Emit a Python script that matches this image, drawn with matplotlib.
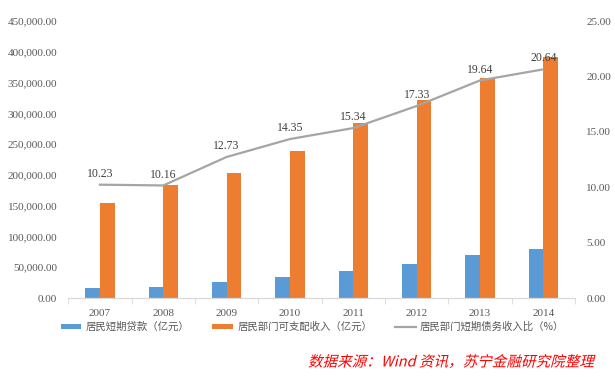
import matplotlib.pyplot as plt
import numpy as np
from matplotlib.ticker import FuncFormatter
from matplotlib.patheffects import AbstractPathEffect
from matplotlib.transforms import Affine2D

plt.rcParams["font.family"] = ["Noto Sans CJK SC", "DejaVu Sans"]

years = ["2007", "2008", "2009", "2010", "2011", "2012", "2013", "2014"]
short_loans = [15700, 17400, 25500, 33600, 43300, 55200, 69300, 79600]
disp_income = [154300, 183500, 203500, 238800, 284800, 321700, 356900, 391000]
ratio = [10.23, 10.16, 12.73, 14.35, 15.34, 17.33, 19.64, 20.64]

blue = "#5B9BD5"
orange = "#ED7D31"
grey = "#A5A5A5"
tick_col = "#595959"
serif = ["Liberation Serif", "DejaVu Serif"]


# CJK fonts have no italic face, so slant the glyph outlines instead
class Slant(AbstractPathEffect):
    def draw_path(self, renderer, gc, tpath, affine, rgbFace=None):
        renderer.draw_path(gc, tpath, Affine2D().skew_deg(14, 0) + affine, rgbFace)


fig = plt.figure(figsize=(6.15, 3.77), dpi=100)
ax = fig.add_axes([0.111, 0.2095, 0.824, 0.7347])
ax2 = ax.twinx()

x = np.arange(len(years))
w = 0.23
ax.bar(x - w / 2, short_loans, w, color=blue, label="居民短期贷款（亿元）", zorder=2)
ax.bar(x + w / 2, disp_income, w, color=orange, label="居民部门可支配收入（亿元）", zorder=2)

ax2.plot(x, ratio, color=grey, lw=1.6, label="居民部门短期债务收入比（%）", zorder=3)
for xi, v in zip(x, ratio):
    ax2.annotate(f"{v:.2f}", (xi, v), xytext=(0, 3.5), textcoords="offset points",
                 ha="center", va="bottom", fontsize=8.5, color="#404040", family=serif)

ax.set_xlim(-0.5, len(years) - 0.5)
ax.set_ylim(0, 450000)
ax.set_yticks(np.arange(0, 450001, 50000))
ax.yaxis.set_major_formatter(FuncFormatter(lambda v, p: f"{v:,.2f}"))
ax2.set_ylim(0, 25)
ax2.set_yticks(np.arange(0, 26, 5))
ax2.yaxis.set_major_formatter(FuncFormatter(lambda v, p: f"{v:.2f}"))

ax.set_xticks(x)
ax.set_xticklabels(years)
ax.set_xticks(np.arange(-0.5, len(years), 1), minor=True)
ax.tick_params(axis="x", which="major", length=0, pad=8)
ax.tick_params(axis="x", which="minor", length=4, color="#D9D9D9")

for a in (ax, ax2):
    for s in ["top", "left", "right"]:
        a.spines[s].set_visible(False)
    a.spines["bottom"].set_color("#D9D9D9")
    a.tick_params(axis="y", length=0, labelsize=8, labelcolor=tick_col, pad=8)
    for lab in a.get_yticklabels():
        lab.set_family(serif)
ax.tick_params(axis="x", labelsize=8, labelcolor=tick_col)
for lab in ax.get_xticklabels():
    lab.set_family(serif)

h1, l1 = ax.get_legend_handles_labels()
h2, l2 = ax2.get_legend_handles_labels()
leg = fig.legend(h1 + h2, l1 + l2, loc="center", bbox_to_anchor=(0.508, 0.133), ncol=3,
                 frameon=False, fontsize=7.5, handlelength=2.0, handleheight=0.45,
                 handletextpad=0.4, columnspacing=2.2, labelcolor=tick_col)

src = fig.text(0.967, 0.02, "数据来源：Wind 资讯，苏宁金融研究院整理", color="red",
               fontsize=10.5, ha="right", va="bottom")
src.set_path_effects([Slant()])

fig.savefig("out.png", dpi=100)
